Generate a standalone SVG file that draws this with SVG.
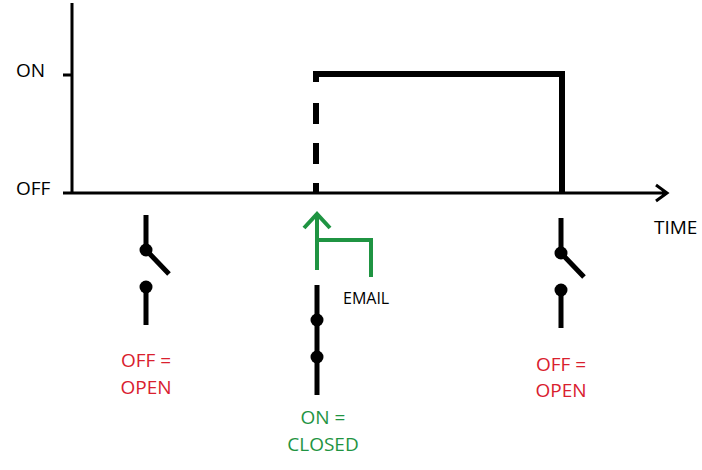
<svg xmlns="http://www.w3.org/2000/svg" width="702" height="470" viewBox="0 0 702 470">
<style>
text{font-family:"Open Sans","Liberation Sans",sans-serif;font-size:19px}
.k{stroke:#000;fill:none}
.r{fill:#d9202e;text-anchor:middle}
.g{fill:#1f9442;text-anchor:middle}
.sw{stroke:#000;stroke-width:5;fill:none}
</style>
<rect width="702" height="470" fill="#fff"/>
<g id="axes">
<path class="k" stroke-width="3" d="M72 3V193M63 75H72M63 193H666M656 185L667 193L656 201"/>
<text x="16" y="77">ON</text>
<text x="16" y="195">OFF</text>
<text x="654" y="234">TIME</text>
</g>
<g id="signal">
<path class="k" stroke-width="6" d="M316 193V183M316 164V143M316 124V103M316 82V74H562V193"/>
</g>
<g id="switch-left">
<path class="sw" d="M146 215V250L169 274M146 287V325"/>
<circle cx="146" cy="250" r="6.5"/><circle cx="146" cy="287" r="6.5"/>
<text class="r" x="146" y="367">OFF =</text>
<text class="r" x="146" y="394">OPEN</text>
</g>
<g id="switch-mid">
<path class="sw" d="M317 285V395"/>
<circle cx="317" cy="320" r="6.5"/><circle cx="317" cy="357" r="6.5"/>
<text class="g" x="323" y="424">ON =</text>
<text class="g" x="323" y="451">CLOSED</text>
</g>
<g id="email">
<path stroke="#1f9442" stroke-width="4" fill="none" d="M317 270V214M304 228L317 214L330 228M317 240H371V277"/>
<text x="343" y="304" style="font-size:16px">EMAIL</text>
</g>
<g id="switch-right">
<path class="sw" d="M561 218V253L584 277M561 290V328"/>
<circle cx="561" cy="253" r="6.5"/><circle cx="561" cy="290" r="6.5"/>
<text class="r" x="561" y="371">OFF =</text>
<text class="r" x="561" y="397">OPEN</text>
</g>
</svg>
